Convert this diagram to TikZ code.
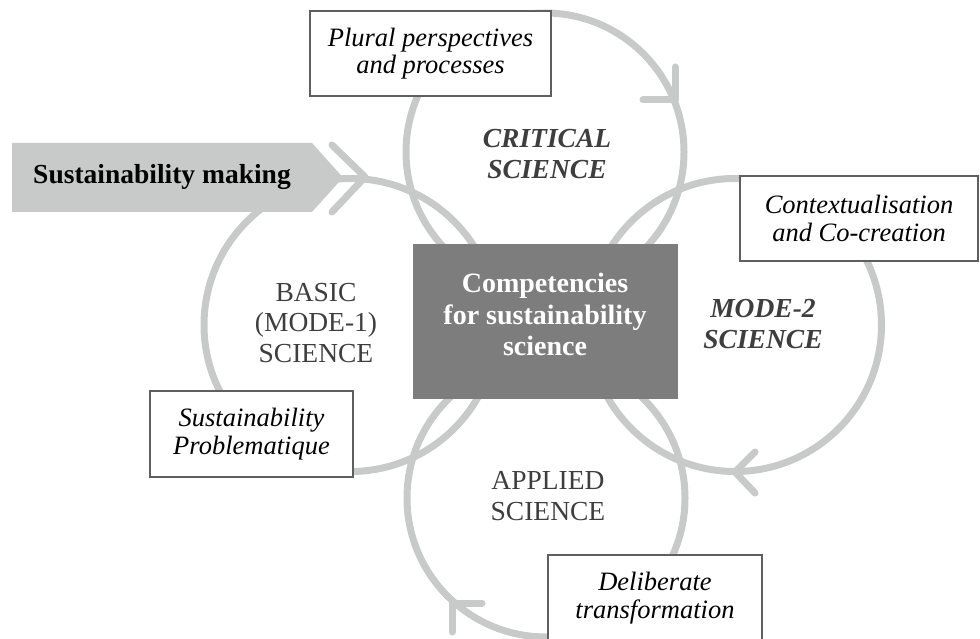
\documentclass[tikz,border=0pt]{standalone}
\usepackage{fontspec}
\usetikzlibrary{calc}
\setmainfont{Liberation Serif}
\definecolor{ringgray}{RGB}{200,202,202}
\definecolor{coregray}{RGB}{125,125,125}
\definecolor{labelgray}{RGB}{62,62,62}
\definecolor{boxline}{RGB}{95,95,95}
\newcommand\zonefont{\fontsize{27.5}{30.5}\selectfont}
\newcommand\boxtextfont{\fontsize{26.5}{27.5}\selectfont\itshape}
\newcommand\corefont{\fontsize{28}{31.5}\selectfont\bfseries}
\begin{document}
\begin{tikzpicture}[x=1pt,y=-1pt,
  ring/.style={draw=ringgray,line width=7pt},
  chev/.style={draw=ringgray,line width=7pt,line cap=round,line join=round},
  lbox/.style={draw=boxline,line width=1.2pt,fill=white,inner sep=0pt,align=center,font=\boxtextfont},
  zone/.style={text=labelgray,align=center,inner sep=0pt,font=\zonefont},
  zonebi/.style={zone,font=\zonefont\bfseries\itshape}]
\useasboundingbox (0,0) rectangle (980,639);

% the four rings
\draw[ring] (545,152) circle[radius=139];
\draw[ring] (350.5,325) circle[radius=146.5];
\draw[ring] (735,325) circle[radius=146.5];
\draw[ring] (546,498) circle[radius=139];

% open arrow heads on the rings (clockwise)
\coordinate (tipT) at (675,100);
\coordinate (tipL) at (365,177);
\coordinate (tipR) at (735,472);
\coordinate (tipB) at (452,603);
\draw[chev] ($(tipT)+(0,-33)$) -- (tipT) -- ($(tipT)+(-32,0)$);
\draw[chev] ($(tipL)+(-33,-32)$) -- (tipL) -- ($(tipL)+(-33,35)$);
\draw[chev] ($(tipR)+(20,-20)$) -- (tipR) -- ($(tipR)+(20,21)$);
\draw[chev] ($(tipB)+(30,0)$) -- (tipB) -- ($(tipB)+(0,29)$);

% Sustainability making arrow
\fill[ringgray] (12,143) -- (312,143) -- (343,177.5) -- (312,212) -- (12,212) -- cycle;
\node[inner sep=0pt,font=\fontsize{27.5}{30}\selectfont\bfseries,text=black] (making) at (162,177) {Sustainability making};

% white label boxes
\node[lbox,minimum width=241,minimum height=85] (plural) at (430.5,53.5) {Plural perspectives\\and processes};
\node[lbox,minimum width=238,minimum height=85] (context) at (859,218.5) {Contextualisation\\and Co-creation};
\node[lbox,minimum width=203,minimum height=86] (problem) at (251.5,434) {Sustainability\\Problematique};
\node[lbox,minimum width=214,minimum height=86] (deliberate) at (655,598) {Deliberate\\transformation};

% zone labels
\node[zonebi] (critical) at (547,154) {CRITICAL\\SCIENCE};
\node[zone] (basic) at (316,323) {BASIC\\(MODE-1)\\SCIENCE};
\node[zonebi] (mode2) at (763,324) {MODE-2\\SCIENCE};
\node[zone] (applied) at (548,496) {APPLIED\\SCIENCE};

% centre box
\node[fill=coregray,minimum width=265,minimum height=155,inner sep=0pt] (core) at (545.5,321.5) {};
\node[text=white,align=center,inner sep=0pt,font=\corefont] (coretext) at (545,314.5) {Competencies\\for sustainability\\science};
\end{tikzpicture}
\end{document}
